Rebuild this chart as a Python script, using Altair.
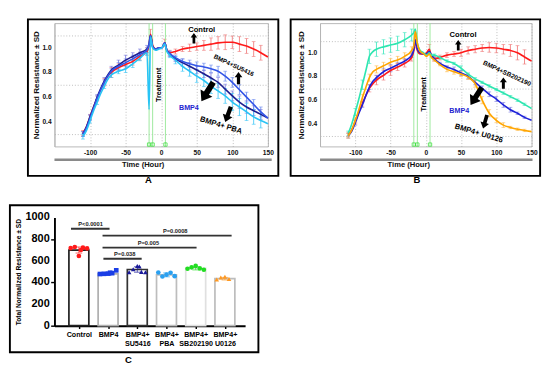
import altair as alt
import pandas as pd

FONT = "Liberation Sans"

# ---------------- shared time grid (hours) for panels A and B ----------------
T = [-110, -105, -100, -95, -90, -85, -80, -75, -70, -60, -50, -40, -30, -20,
     -17, -15, -12, -8, -3, 1, 5, 8, 12, 20, 30, 40, 50, 60, 70, 80, 90, 100,
     110, 120, 130, 140, 150]
TREAT_T = [-17, -12, 6]
X_TICKS = [-100, -50, 0, 50, 100, 150]
Y_LABELS = [0.4, 0.6, 0.8, 1.0]

# ---------------- panel A ----------------
A_NAMES = ["Control", "BMP4", "BMP4+SU5416", "BMP4+PBA"]
A_CONTROL = [0.31, 0.36, 0.44, 0.52, 0.59, 0.66, 0.72, 0.77, 0.80, 0.84, 0.865, 0.89, 0.93, 0.97,
             1.02, 1.11, 1.02, 0.99, 1.00, 1.00, 1.04, 0.98, 0.96, 0.97, 0.99, 1.00, 1.01, 1.02,
             1.03, 1.04, 1.045, 1.045, 1.03, 1.015, 0.99, 0.96, 0.925]
A_BMP4 = [0.30, 0.36, 0.44, 0.52, 0.60, 0.67, 0.73, 0.78, 0.82, 0.86, 0.90, 0.93, 0.96, 0.99,
          1.03, 1.10, 1.01, 0.99, 1.00, 1.00, 1.04, 0.98, 0.95, 0.91, 0.88, 0.85, 0.82, 0.79,
          0.755, 0.72, 0.665, 0.61, 0.56, 0.52, 0.49, 0.46, 0.43]
A_SU5416 = [0.30, 0.35, 0.43, 0.51, 0.59, 0.66, 0.72, 0.77, 0.81, 0.85, 0.88, 0.91, 0.945, 0.98,
            1.03, 1.10, 1.01, 0.99, 1.00, 1.00, 1.04, 0.98, 0.955, 0.92, 0.89, 0.87, 0.855, 0.845,
            0.83, 0.81, 0.77, 0.72, 0.66, 0.60, 0.54, 0.48, 0.43]
A_PBA = [0.28, 0.33, 0.41, 0.49, 0.56, 0.63, 0.69, 0.745, 0.78, 0.81, 0.83, 0.87, 0.915, 0.96,
         0.50, 1.09, 1.00, 0.98, 0.99, 1.00, 1.03, 0.97, 0.94, 0.90, 0.85, 0.81, 0.77, 0.735,
         0.69, 0.65, 0.61, 0.56, 0.52, 0.48, 0.44, 0.41, 0.385]
A_CONTROL_SD = [0.02, 0, 0.02, 0, 0.02, 0, 0.03, 0, 0.04, 0.03, 0.03, 0.03, 0.03, 0.03,
                0, 0.04, 0, 0, 0, 0, 0.03, 0, 0.02, 0.02, 0.02, 0.03, 0.03, 0.04,
                0.05, 0.05, 0.06, 0.05, 0.06, 0.06, 0.06, 0.06, 0]
A_BMP4_SD = [0.02, 0, 0.02, 0, 0.02, 0, 0.03, 0, 0.03, 0.04, 0.04, 0.03, 0.03, 0.03,
             0, 0, 0, 0, 0, 0, 0, 0, 0.02, 0.02, 0.03, 0.03, 0.03, 0.03,
             0.04, 0.04, 0.04, 0.04, 0.05, 0.05, 0.04, 0.04, 0]
A_SU5416_SD = [0.02, 0, 0.02, 0, 0.02, 0, 0.02, 0, 0.02, 0.03, 0.03, 0.03, 0.02, 0.02,
               0, 0, 0, 0, 0, 0, 0, 0, 0.02, 0.02, 0.02, 0.03, 0.03, 0.03,
               0.03, 0.04, 0.04, 0.04, 0.04, 0.04, 0.04, 0.04, 0]
A_PBA_SD = [0.02, 0, 0.02, 0, 0.02, 0, 0.02, 0, 0.02, 0.02, 0.03, 0.03, 0.02, 0.02,
            0, 0, 0, 0, 0, 0, 0, 0, 0.02, 0.03, 0.04, 0.04, 0.05, 0.05,
            0.06, 0.06, 0.06, 0.07, 0.07, 0.07, 0.06, 0.06, 0]
A_LINE_COLORS = ["#ff1a1a", "#1f1f90", "#3355e6", "#29c4f5"]
A_EB_COLORS = ["#f07a7a", "#7c7ce0", "#6c8cf0", "#3ec8f8"]

A_TEXT = ["Control", "BMP4+SU5416", "BMP4", "BMP4+ PBA", "Treatment"]
A_TEXT_T = [57, 102, 39, 84, -3.5]
A_TEXT_V = [1.146, 0.856, 0.51, 0.369, 0.70]
A_TEXT_ANG = [0, 25, 0, 17, 270]
A_TEXT_COL = ["black", "black", "#2525d0", "black", "black"]
A_TEXT_FS = [8, 6.6, 7.5, 8, 7.6]
A_ARROW_T = [46, 108.7, 64.9, 94]
A_ARROW_V = [1.077, 0.754, 0.644, 0.46]
A_ARROW_ANG = [0, 0, 212, 200]
A_ARROW_SZ = [121, 169, 560, 300]

# ---------------- panel B ----------------
B_NAMES = ["Control", "BMP4", "BMP4+SB202190", "BMP4+U0126"]
B_CONTROL = [0.31, 0.35, 0.42, 0.50, 0.57, 0.64, 0.70, 0.74, 0.77, 0.81, 0.85, 0.88, 0.91, 0.96,
             1.02, 1.10, 1.02, 0.99, 0.99, 1.00, 1.03, 0.97, 0.95, 0.96, 0.98, 0.99, 1.00, 1.02,
             1.03, 1.04, 1.045, 1.04, 1.03, 1.02, 1.00, 0.965, 0.93]
B_BMP4 = [0.30, 0.34, 0.41, 0.49, 0.56, 0.64, 0.71, 0.76, 0.79, 0.84, 0.87, 0.90, 0.93, 0.98,
          1.03, 1.11, 1.03, 1.00, 0.99, 0.99, 1.01, 0.98, 0.95, 0.91, 0.88, 0.86, 0.83, 0.80,
          0.75, 0.70, 0.65, 0.61, 0.56, 0.52, 0.49, 0.455, 0.43]
B_SB202190 = [0.32, 0.40, 0.50, 0.61, 0.73, 0.85, 0.97, 1.01, 1.03, 1.05, 1.065, 1.08, 1.11, 1.15,
              1.17, 1.20, 1.08, 1.02, 1.00, 0.98, 1.00, 0.98, 0.98, 0.96, 0.93, 0.91, 0.87, 0.82,
              0.78, 0.75, 0.72, 0.69, 0.66, 0.63, 0.60, 0.565, 0.53]
B_U0126 = [0.30, 0.35, 0.43, 0.52, 0.62, 0.71, 0.79, 0.84, 0.86, 0.89, 0.92, 0.94, 0.97, 1.02,
           1.06, 1.18, 1.08, 1.01, 0.99, 0.97, 0.99, 0.96, 0.94, 0.90, 0.86, 0.84, 0.82, 0.795,
           0.74, 0.60, 0.49, 0.43, 0.39, 0.37, 0.355, 0.345, 0.335]
B_CONTROL_SD = [0.02, 0, 0.02, 0, 0.02, 0, 0.03, 0, 0.04, 0.04, 0.04, 0.03, 0.03, 0.03,
                0, 0.06, 0, 0, 0, 0, 0.04, 0, 0.02, 0.02, 0.02, 0.02, 0.03, 0.03,
                0.03, 0.03, 0.04, 0.04, 0.04, 0.05, 0.06, 0.06, 0]
B_BMP4_SD = [0.02, 0, 0.02, 0, 0.02, 0, 0.02, 0, 0.02, 0.03, 0.03, 0.02, 0.02, 0.02,
             0, 0, 0, 0, 0, 0, 0, 0, 0.01, 0.01, 0.01, 0.02, 0.02, 0.02,
             0.02, 0.02, 0.02, 0.02, 0.02, 0.02, 0.01, 0.01, 0]
B_SB202190_SD = [0.02, 0, 0.03, 0, 0.04, 0, 0.06, 0, 0.06, 0.06, 0.06, 0.06, 0.06, 0.05,
                 0, 0, 0, 0, 0, 0, 0, 0, 0.01, 0.01, 0.01, 0.01, 0.02, 0.01,
                 0.01, 0.01, 0.01, 0.01, 0.01, 0.01, 0.01, 0.01, 0]
B_U0126_SD = [0.02, 0, 0.02, 0, 0.03, 0, 0.03, 0, 0.03, 0.03, 0.03, 0.03, 0.03, 0.03,
              0, 0, 0, 0, 0, 0, 0, 0, 0.01, 0.01, 0.02, 0.02, 0.02, 0.02,
              0.03, 0.03, 0.03, 0.02, 0.02, 0.01, 0.01, 0.01, 0]
B_LINE_COLORS = ["#ff1a1a", "#1e22d8", "#2ee6b0", "#ffa500"]
B_EB_COLORS = ["#f07a7a", "#7a7ae0", "#40e8c0", "#ffbe50"]

B_TEXT = ["Control", "BMP4+SB202190", "BMP4", "BMP4+ U0126", "Treatment"]
B_TEXT_T = [52.8, 115, 47.4, 75, -2]
B_TEXT_V = [1.15, 0.824, 0.51, 0.318, 0.65]
B_TEXT_ANG = [0, 25, 0, 17, 270]
B_TEXT_COL = ["black", "black", "#2525d0", "black", "black"]
B_TEXT_FS = [8, 6.8, 7.5, 8, 7.6]
B_ARROW_T = [46, 110, 71.5, 84]
B_ARROW_V = [1.064, 0.744, 0.634, 0.418]
B_ARROW_ANG = [0, 0, 213, 196]
B_ARROW_SZ = [121, 144, 484, 225]

# ---------------- panel C ----------------
C_CATS = ["Control", "BMP4", "BMP4+ SU5416", "BMP4+ PBA", "BMP4+ SB202190", "BMP4+ U0126"]
C_MEANS = [700, 480, 520, 470, 530, 435]
C_SD = [28, 12, 25, 18, 14, 12]
C_CONTROL = [718, 728, 645, 722, 715, 700]
C_BMP4 = [478, 480, 482, 486, 512, 490]
C_SU5416 = [495, 522, 552, 498, 494, 548]
C_PBA = [492, 455, 472, 490, 458]
C_SB202190 = [527, 540, 553, 530, 518]
C_U0126 = [428, 445, 452, 432]
C_JITTER = [-0.28, -0.14, 0.0, 0.14, 0.28, 0.07]
C_YTICKS = [0, 200, 400, 600, 800, 1000]
C_PT_COLORS = ["#ff1a1a", "#1a3ee6", "#1a1a99", "#2aa0f0", "#22dd22", "#ff9922"]
C_SHAPES = ["circle", "square", "triangle-up", "circle", "circle", "triangle-up"]
C_BAR_STROKES = ["#222222", "#b0b0b0", "#333333", "#bdbdbd", "#e0e0e0", "#bdbdbd"]
P_LABELS = ["P<0.0001", "P=0.0008", "P=0.005", "P=0.038"]
P_X1 = [-0.27, 0.81, 0.81, 0.84]
P_X2 = [1.05, 5.23, 4.03, 2.15]
P_Y = [897, 833, 722, 619]
P_TX = [0.4, 3.3, 2.38, 1.57]

ARROW = "M-0.26,1 L0.26,1 L0.26,-0.15 L0.62,-0.15 L0,-1 L-0.62,-0.15 L-0.26,-0.15 Z"
DUMMY = pd.DataFrame({"d": [0]})


def deco(frame, letter, letter_xy, gray=None):
    layers = [
        alt.Chart(DUMMY).mark_rect(fill="transparent", stroke="black", strokeWidth=2).encode(
            x=alt.value(frame[0]), x2=alt.value(frame[1]), y=alt.value(frame[2]), y2=alt.value(frame[3])),
        alt.Chart(DUMMY).mark_text(fontSize=10, fontWeight="bold", color="black").encode(
            x=alt.value(letter_xy[0]), y=alt.value(letter_xy[1]), text=alt.value(letter)),
    ]
    if gray is not None:
        layers.append(alt.Chart(DUMMY).mark_rule(color="#8a8a8a", strokeWidth=2.5).encode(
            x=alt.value(0), x2=alt.value(gray[0]), y=alt.value(gray[1])))
    return layers


def curve_panel(names, vals, sds, line_cols, eb_cols, ydom, yvals, w, h,
                txt, arr, frame, gray_x2, letter, letter_xy, title_x):
    rows = []
    for name, vs, ss in zip(names, vals, sds):
        for t, v, s in zip(T, vs, ss):
            rows.append({"series": name, "t": t, "v": v, "lo": v - s, "hi": v + s, "sd": s})
    df = pd.DataFrame(rows)
    eb = df[df["sd"] > 0]
    xs = alt.Scale(domain=[-150, 150], nice=False, zero=False)
    ys = alt.Scale(domain=ydom, nice=False, zero=False)
    xax = alt.Axis(values=X_TICKS, labelExpr="'' + datum.value", grid=True, gridDash=[1, 2],
                   gridColor="#a8a8a8", gridWidth=0.8, ticks=False, domain=False,
                   labelFontSize=7, labelFontWeight="bold", labelColor="#111", labelPadding=3,
                   labelFlush=False, labelOverlap=False,
                   title="Time (Hour)", titleFontSize=8, titleFontWeight="bold", titleColor="#111",
                   titleX=title_x, titleY=15)
    yax = alt.Axis(values=yvals, grid=True, gridDash=[1, 2], gridColor="#a8a8a8", gridWidth=0.8,
                   ticks=False, labels=False, domain=True, domainColor="#b5b5b5", domainWidth=1,
                   title="Normalized Resistance ± SD", titleFontSize=8.5, titleFontWeight="bold",
                   titleColor="#111", titlePadding=15)
    ebc = alt.Color("series:N", scale=alt.Scale(domain=names, range=eb_cols), legend=None)
    lc = alt.Color("series:N", scale=alt.Scale(domain=names, range=line_cols), legend=None)

    rules = alt.Chart(eb).mark_rule(strokeWidth=0.9).encode(
        x=alt.X("t:Q", scale=xs, axis=xax), y=alt.Y("lo:Q", scale=ys, axis=yax), y2="hi:Q", color=ebc)
    cap_lo = alt.Chart(eb).mark_tick(orient="horizontal", size=4, thickness=0.9).encode(
        x="t:Q", y="lo:Q", color=ebc)
    cap_hi = alt.Chart(eb).mark_tick(orient="horizontal", size=4, thickness=0.9).encode(
        x="t:Q", y="hi:Q", color=ebc)
    lines = alt.Chart(df).mark_line(interpolate="monotone", strokeWidth=1.7).encode(
        x="t:Q", y="v:Q", color=lc)
    tdf = pd.DataFrame({"t": TREAT_T})
    green = alt.Chart(tdf).mark_rule(color="#9be89b", strokeWidth=1).encode(x="t:Q")
    squares = alt.Chart(tdf).mark_square(size=12, filled=False, color="#22dd22", strokeWidth=1).encode(
        x="t:Q", y=alt.value(h - 2))
    ylab = alt.Chart(pd.DataFrame({"v": Y_LABELS})).mark_text(
        align="right", baseline="middle", fontSize=7, fontWeight="bold", color="#111").encode(
        x=alt.value(-3), y="v:Q", text=alt.Text("v:Q", format=".1f"))
    texts = alt.Chart(pd.DataFrame(txt)).mark_text(fontWeight="bold").encode(
        x="t:Q", y="v:Q", text="label:N",
        angle=alt.Angle("ang:Q", scale=None, legend=None),
        color=alt.Color("col:N", scale=None, legend=None),
        size=alt.Size("fs:Q", scale=None, legend=None))
    arrows = alt.Chart(pd.DataFrame(arr)).mark_point(shape=ARROW, filled=True, opacity=1,
                                                      strokeWidth=0, color="black").encode(
        x="t:Q", y="v:Q", angle=alt.Angle("ang:Q", scale=None, legend=None),
        size=alt.Size("sz:Q", scale=None, legend=None))
    layers = [rules, cap_lo, cap_hi, green, squares, lines, ylab, texts, arrows] + \
        deco(frame, letter, letter_xy, gray=(gray_x2, h + 14))
    return alt.layer(*layers).resolve_scale(color="independent", size="independent",
                                            angle="independent").properties(
        width=w, height=h, view=alt.ViewBackground(stroke="#b5b5b5", strokeWidth=1))


A = curve_panel(A_NAMES, [A_CONTROL, A_BMP4, A_SU5416, A_PBA],
                [A_CONTROL_SD, A_BMP4_SD, A_SU5416_SD, A_PBA_SD],
                A_LINE_COLORS, A_EB_COLORS, [0.2, 1.2],
                [0.3, 0.4, 0.5, 0.6, 0.7, 0.8, 0.9, 1.0, 1.1], 225, 130,
                dict(label=A_TEXT, t=A_TEXT_T, v=A_TEXT_V, ang=A_TEXT_ANG, col=A_TEXT_COL, fs=A_TEXT_FS),
                dict(t=A_ARROW_T, v=A_ARROW_V, ang=A_ARROW_ANG, sz=A_ARROW_SZ),
                (-28, 236, -4, 161), 229, "A", (99, 166), 93)

B = curve_panel(B_NAMES, [B_CONTROL, B_BMP4, B_SB202190, B_U0126],
                [B_CONTROL_SD, B_BMP4_SD, B_SB202190_SD, B_U0126_SD],
                B_LINE_COLORS, B_EB_COLORS, [0.21, 1.25],
                [0.3, 0.4, 0.5, 0.6, 0.7, 0.8, 0.9, 1.0, 1.1, 1.2], 223, 130,
                dict(label=B_TEXT, t=B_TEXT_T, v=B_TEXT_V, ang=B_TEXT_ANG, col=B_TEXT_COL, fs=B_TEXT_FS),
                dict(t=B_ARROW_T, v=B_ARROW_V, ang=B_ARROW_ANG, sz=B_ARROW_SZ),
                (-31, 232, -4, 161), 224, "B", (102, 166), 93)

# ---- panel C data frames
bar_df = pd.DataFrame({"i": list(range(len(C_CATS))), "cat": C_CATS, "mean": C_MEANS,
                       "lo": [m - s for m, s in zip(C_MEANS, C_SD)],
                       "hi": [m + s for m, s in zip(C_MEANS, C_SD)]})
pts = []
for i, (cat, vals) in enumerate(zip(C_CATS, [C_CONTROL, C_BMP4, C_SU5416, C_PBA, C_SB202190, C_U0126])):
    for j, v in enumerate(vals):
        pts.append({"cat": cat, "x": i + C_JITTER[j], "val": v})
pts_df = pd.DataFrame(pts)
p_df = pd.DataFrame({"label": P_LABELS, "x1": P_X1, "x2": P_X2, "y": P_Y, "tx": P_TX})

cond = "''"
for k in range(len(C_CATS) - 1, -1, -1):
    cond = f"(datum.value == {k} ? '{C_CATS[k]}' : {cond})"
xc = alt.Scale(domain=[-0.673, 5.53], nice=False, zero=False)
yc = alt.Scale(domain=[0, 1000], nice=False)
xcax = alt.Axis(values=[0, 1, 2, 3, 4, 5], labelExpr=f"split({cond}, ' ')", grid=False,
                domainColor="black", domainWidth=2, tickColor="black", tickSize=3, tickWidth=1.5,
                labelFontSize=7.5, labelFontWeight="bold", labelColor="black", labelPadding=2,
                labelLineHeight=10, labelOverlap=False, labelFlush=False, title=None)
ycax = alt.Axis(values=C_YTICKS, grid=False, domainColor="black", domainWidth=2,
                tickColor="black", tickSize=4, tickWidth=1.5, labels=False,
                title="Total Normalized Resistance ± SD", titleFontSize=7, titleFontWeight="bold",
                titleColor="black", titlePadding=30)
ptc = alt.Color("cat:N", scale=alt.Scale(domain=C_CATS, range=C_PT_COLORS), legend=None)

bars = alt.Chart(bar_df).mark_bar(size=21, orient="vertical", fill="white", strokeWidth=1.8).encode(
    x=alt.X("i:Q", scale=xc, axis=xcax), y=alt.Y("mean:Q", scale=yc, axis=ycax, stack=None),
    stroke=alt.Stroke("cat:N", scale=alt.Scale(domain=C_CATS, range=C_BAR_STROKES), legend=None))
c_ylab = alt.Chart(pd.DataFrame({"y": C_YTICKS})).mark_text(
    align="right", baseline="middle", fontSize=11.5, fontWeight="bold", color="black").encode(
    x=alt.value(-5), y="y:Q", text="y:Q")
c_rule = alt.Chart(bar_df).mark_rule(strokeWidth=1, opacity=0.7).encode(x="i:Q", y="lo:Q", y2="hi:Q", color=ptc)
c_cap1 = alt.Chart(bar_df).mark_tick(orient="horizontal", size=7, thickness=1, opacity=0.7).encode(
    x="i:Q", y="lo:Q", color=ptc)
c_cap2 = alt.Chart(bar_df).mark_tick(orient="horizontal", size=7, thickness=1, opacity=0.7).encode(
    x="i:Q", y="hi:Q", color=ptc)
c_pts = alt.Chart(pts_df).mark_point(filled=True, size=24, opacity=1).encode(
    x="x:Q", y="val:Q", color=ptc,
    shape=alt.Shape("cat:N", scale=alt.Scale(domain=C_CATS, range=C_SHAPES), legend=None))
p_lines = alt.Chart(p_df).mark_rule(color="#333333", strokeWidth=2).encode(x="x1:Q", x2="x2:Q", y="y:Q")
p_text = alt.Chart(p_df).mark_text(fontSize=6, fontWeight="bold", baseline="bottom", dy=-1.5,
                                   color="#222").encode(x="tx:Q", y="y:Q", text="label:N")
C = alt.layer(bars, c_ylab, c_rule, c_cap1, c_cap2, c_pts, p_lines, p_text,
              *deco((-47, 215, -13, 142), "C", (78, 150))).properties(width=201, height=114)

chart = alt.vconcat(alt.hconcat(A, B, spacing=9), C, spacing=18).properties(
    padding=0).configure(font=FONT).configure_view(stroke="transparent").configure_axis(
    labelOverlap=False)

chart.save("out.html", embed_options={"renderer": "svg", "actions": False})
